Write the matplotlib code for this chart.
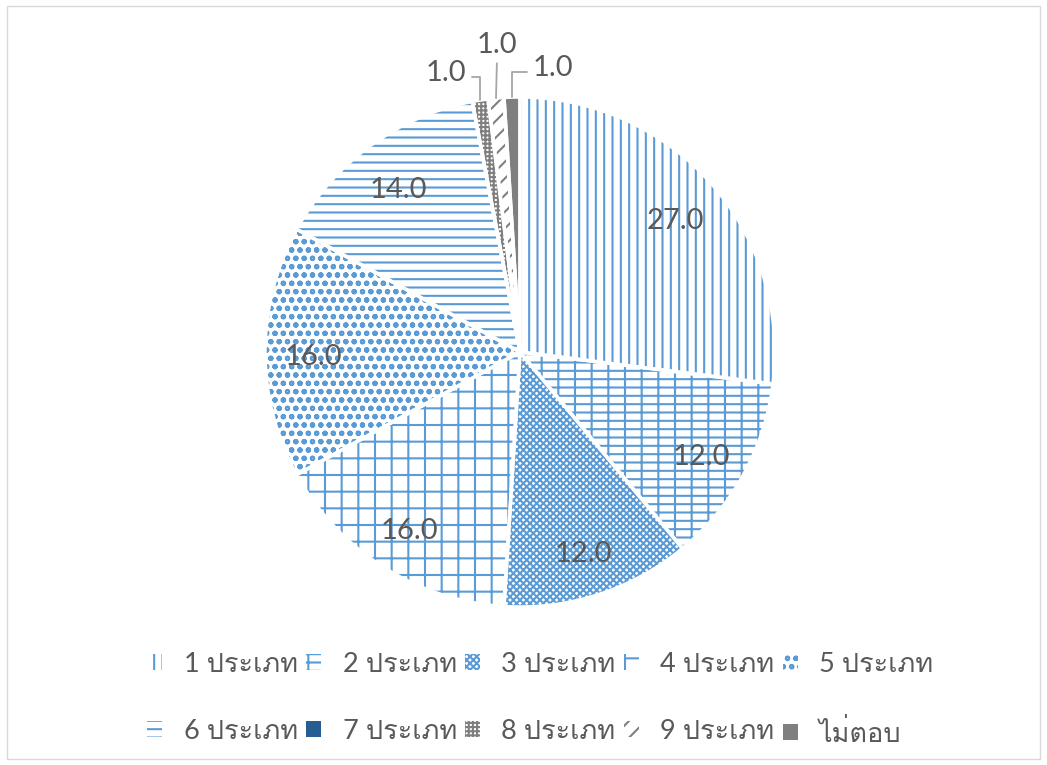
import matplotlib
matplotlib.use('Agg')
import matplotlib.pyplot as plt
from matplotlib import font_manager, ft2font
from matplotlib.patches import Rectangle
import numpy as np

# data
categories = ['1 ประเภท', '2 ประเภท', '3 ประเภท', '4 ประเภท', '5 ประเภท',
              '6 ประเภท', '7 ประเภท', '8 ประเภท', '9 ประเภท', 'ไม่ตอบ']
values = [27.0, 12.0, 12.0, 16.0, 16.0, 14.0, 0.0, 1.0, 1.0, 1.0]

blue = '#5B9BD5'
gray = '#7F7F7F'
text_color = '#595959'

# pattern per slice: (face, hatch colour, hatch)
styles = [
    ('white', blue, '||'),
    ('white', blue, '--|'),
    ('white', blue, 'xxxxx'),
    ('white', blue, '+'),
    ('white', blue, 'oo'),
    ('white', blue, '--'),
    ('#255E91', '#255E91', ''),
    ('white', gray, '++++'),
    ('white', gray, '//'),
    (gray, gray, ''),
]

# find a font that has Thai glyphs
thai_font = None
for f in font_manager.fontManager.ttflist:
    try:
        ft = ft2font.FT2Font(f.fname)
        if ft.get_char_index(0x0E1B) and ft.get_char_index(0x0E40):
            thai_font = f.name
            break
    except Exception:
        pass

families = ['Lato']
if thai_font:
    families.append(thai_font)
families.append('DejaVu Sans')
plt.rcParams['font.family'] = families
plt.rcParams['hatch.linewidth'] = 1.5

fig = plt.figure(figsize=(10.47, 7.65), dpi=100)
W, H = 1047, 765
cx, cy, r = 520, 352, 255
L = 1.35
ax = fig.add_axes([(cx - L * r) / W, (H - cy - L * r) / H, 2 * L * r / W, 2 * L * r / H])

wedges, _ = ax.pie(values, startangle=90, counterclock=False, radius=1.0)
for w, (fc, hc, hatch) in zip(wedges, styles):
    w.set_facecolor(fc)
    w.set_edgecolor(hc)
    w.set_linewidth(0)
    w.set_hatch(hatch)

# white separators between slices
sep, _ = ax.pie(values, startangle=90, counterclock=False, radius=1.0,
                wedgeprops=dict(facecolor='none', edgecolor='white', linewidth=2.5))
ax.set_xlim(-L, L)
ax.set_ylim(-L, L)
ax.axis('off')

# data labels
small_pos = [(-0.29, 1.095), (-0.09, 1.205), (0.13, 1.115)]
small_rel = [(1, 0.35), (0.5, 0.05), (0, 0.35)]
k = 0
for w, v in zip(wedges, values):
    if v == 0:
        continue
    ang = np.deg2rad((w.theta1 + w.theta2) / 2)
    if v >= 5:
        ax.text(0.81 * np.cos(ang), 0.81 * np.sin(ang) - 0.02, f'{v:.1f}',
                ha='center', va='center', fontsize=21, color=text_color)
    else:
        xy = (np.cos(ang), np.sin(ang))
        if small_rel[k][0] == 0.5:
            cs = 'arc3'
        else:
            cs = 'angle,angleA=0,angleB=90,rad=0'
        ax.annotate(f'{v:.1f}', xy=xy, xytext=small_pos[k], ha='center', va='center',
                    fontsize=21, color=text_color,
                    arrowprops=dict(arrowstyle='-', color='#A6A6A6', lw=1.3,
                                    connectionstyle=cs, relpos=small_rel[k],
                                    shrinkA=2, shrinkB=0))
        k += 1

# legend, filled row by row
order = [0, 5, 1, 6, 2, 7, 3, 8, 4, 9]
leg = fig.legend([wedges[i] for i in order], [categories[i] for i in order],
                 loc='center', bbox_to_anchor=(0.516, 0.086), ncol=5, frameon=False,
                 fontsize=19.5, handlelength=0.55, handleheight=0.55, handletextpad=0.8,
                 columnspacing=0.3, labelspacing=1.55)
for t in leg.get_texts():
    t.set_color(text_color)

fig.patches.append(Rectangle((0.007, 0.008), 0.986, 0.984, transform=fig.transFigure,
                             fill=False, edgecolor='#D9D9D9', linewidth=1))

fig.savefig('out.png', dpi=100)
